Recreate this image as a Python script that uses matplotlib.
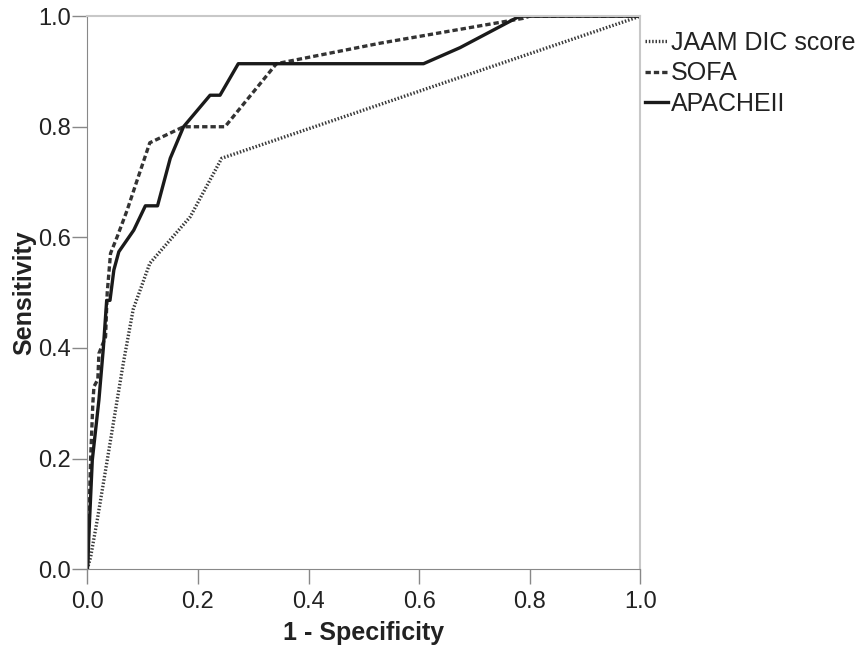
import matplotlib.pyplot as plt

plt.rcParams['font.family'] = ['Liberation Sans', 'DejaVu Sans']

# ROC curves (1 - specificity, sensitivity)
jaam_x = [0, 0.006, 0.018, 0.036, 0.054, 0.065, 0.083, 0.113, 0.186, 0.243, 1.0]
jaam_y = [0, 0.022, 0.089, 0.197, 0.306, 0.372, 0.470, 0.553, 0.637, 0.743, 1.0]

sofa_x = [0, 0.002, 0.006, 0.010, 0.012, 0.019, 0.021, 0.033, 0.036, 0.042,
          0.054, 0.072, 0.090, 0.113, 0.174, 0.249, 0.342, 0.529, 0.788, 0.80, 1.0]
sofa_y = [0, 0.06, 0.20, 0.30, 0.33, 0.343, 0.39, 0.42, 0.50, 0.571,
          0.601, 0.649, 0.703, 0.771, 0.80, 0.80, 0.914, 0.951, 0.996, 1.0, 1.0]

apache_x = [0, 0.001, 0.003, 0.009, 0.021, 0.029, 0.035, 0.041, 0.048, 0.057, 0.084,
            0.105, 0.127, 0.150, 0.174, 0.222, 0.240, 0.273, 0.608, 0.674, 0.782, 1.0]
apache_y = [0, 0.01, 0.065, 0.197, 0.306, 0.40, 0.486, 0.486, 0.541, 0.574, 0.613,
            0.657, 0.657, 0.743, 0.80, 0.857, 0.857, 0.914, 0.914, 0.943, 1.0, 1.0]

labels = ['JAAM DIC score', 'SOFA', 'APACHEII']
ticks = [0.0, 0.2, 0.4, 0.6, 0.8, 1.0]

fig = plt.figure(figsize=(8.56, 6.46), dpi=100)
ax = fig.add_axes([0.102, 0.119, 0.646, 0.856])

ax.plot(jaam_x, jaam_y, color='#3a3a3a', lw=2.4, ls=(0, (0.45, 0.55)), label=labels[0])
ax.plot(sofa_x, sofa_y, color='#333333', lw=2.4, ls=(0, (1.6, 0.9)), label=labels[1])
ax.plot(apache_x, apache_y, color='#1a1a1a', lw=2.4, label=labels[2])

ax.set_xlim(0, 1)
ax.set_ylim(0, 1)
ax.set_xticks(ticks)
ax.set_yticks(ticks)
ax.set_xticklabels(['%.1f' % t for t in ticks])
ax.set_yticklabels(['%.1f' % t for t in ticks])
ax.tick_params(labelsize=17, length=11, width=1, color='#888888', labelcolor='#222222')
ax.tick_params(axis='y', pad=0.5)
ax.tick_params(axis='x', pad=5)
for s in ['left', 'bottom']:
    ax.spines[s].set_color('#888888')
for s in ['top', 'right']:
    ax.spines[s].set_color('#c8c8c8')
    ax.spines[s].set_linewidth(1.5)

ax.set_xlabel('1 - Specificity', fontsize=18, fontweight='bold', color='#222222')
ax.set_ylabel('Sensitivity', fontsize=18, fontweight='bold', color='#222222')
ax.xaxis.set_label_coords(0.5, -0.094)
ax.yaxis.set_label_coords(-0.093, 0.5)

fig.legend(loc='upper left', bbox_to_anchor=(0.753, 0.952), frameon=False,
           fontsize=18, handlelength=0.95, handletextpad=0.1, labelspacing=0.25,
           borderpad=0, borderaxespad=0, labelcolor='#222222')

fig.savefig('out.png', dpi=100)
